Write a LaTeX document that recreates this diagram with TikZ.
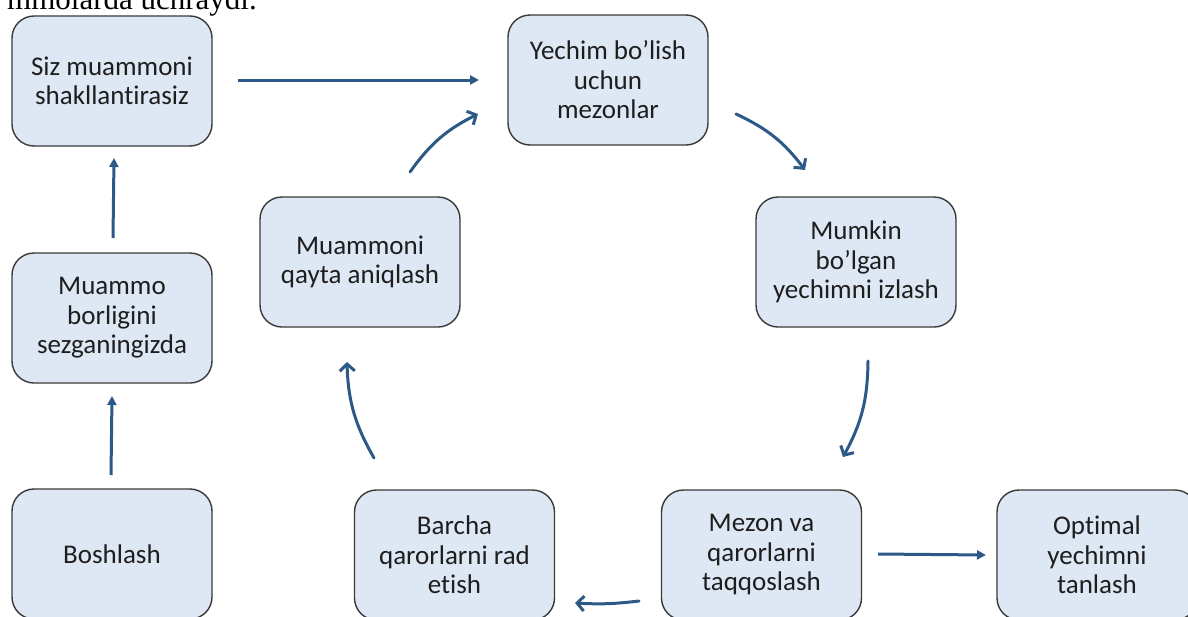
\documentclass[tikz,border=0pt]{standalone}
\usepackage{fontspec}
\setmainfont{Carlito}[Ligatures=NoCommon]
\newfontfamily\serifdoc{Liberation Serif}
\usetikzlibrary{arrows.meta}
\definecolor{boxfill}{HTML}{DDE8F4}
\definecolor{boxline}{HTML}{3A3A3A}
\definecolor{arrowblue}{HTML}{2D5986}
\definecolor{txt}{HTML}{1E1E1E}
\tikzset{
  stepbox/.style={rectangle, rounded corners=22pt, draw=boxline, line width=1.4pt,
    fill=boxfill, minimum width=200pt, minimum height=130pt, inner sep=0pt,
    align=center, text=txt, font=\fontsize{27}{29.5}\selectfont},
  straightarr/.style={draw=arrowblue, line width=3pt, -{Triangle[length=9pt,width=9pt]}},
  curvearr/.style={draw=arrowblue, line width=3pt, line cap=round,
    -{Straight Barb[length=7pt,width=15pt,line width=3pt]}},
}
\begin{document}
\begin{tikzpicture}[x=1pt,y=-1pt]
\useasboundingbox (0,0) rectangle (1188,616);
\clip (0,0) rectangle (1188,616);
\fill[white] (0,0) rectangle (1188,616);

\node[anchor=base east, inner sep=0pt, font=\serifdoc\fontsize{31}{31}\selectfont, text=black] (intro) at (257,9) {mmolarda uchraydi.};

\node[stepbox] (siz) at (112,81) {Siz muammoni\\shakllantirasiz};
\node[stepbox] (yechim) at (608,80) {Yechim bo'lish\\uchun\\mezonlar};
\node[stepbox] (mumkin) at (856,262) {Mumkin\\bo'lgan\\yechimni izlash};
\node[stepbox] (qayta) at (360,262) {Muammoni\\qayta aniqlash};
\node[stepbox] (borlik) at (112,318) {Muammo\\borligini\\sezganingizda};
\node[stepbox] (bosh) at (112,554) {Boshlash};
\node[stepbox] (barcha) at (454.5,555) {Barcha\\qarorlarni rad\\etish};
\node[stepbox] (mezon) at (761.5,555) {Mezon va\\qarorlarni\\taqqoslash};
\node[stepbox] (optimal) at (1097,555) {Optimal\\yechimni\\tanlash};

\coordinate (a1s) at (238,80);  \coordinate (a1e) at (479,80);
\coordinate (a2s) at (113,238); \coordinate (a2e) at (114,158);
\coordinate (a3s) at (111,475); \coordinate (a3e) at (112,396);
\coordinate (a4s) at (410,172); \coordinate (a4e) at (478,114);
\coordinate (a5s) at (736,114); \coordinate (a5e) at (805,170);
\coordinate (a6s) at (868,361); \coordinate (a6e) at (843,457);
\coordinate (a7s) at (878,554); \coordinate (a7e) at (986,555);
\coordinate (a8s) at (639,601); \coordinate (a8e) at (575,603);
\coordinate (a9s) at (374,458); \coordinate (a9e) at (347,362);

\draw[straightarr] (a1s) -- (a1e);
\draw[straightarr] (a2s) -- (a2e);
\draw[straightarr] (a3s) -- (a3e);
\draw[curvearr] (a4s) to[bend left=14] (a4e);
\draw[curvearr] (a5s) to[bend left=14] (a5e);
\draw[curvearr] (a6s) to[bend left=14] (a6e);
\draw[straightarr] (a7s) -- (a7e);
\draw[curvearr] (a8s) to[bend left=5] (a8e);
\draw[curvearr] (a9s) to[bend left=14] (a9e);
\end{tikzpicture}
\end{document}
